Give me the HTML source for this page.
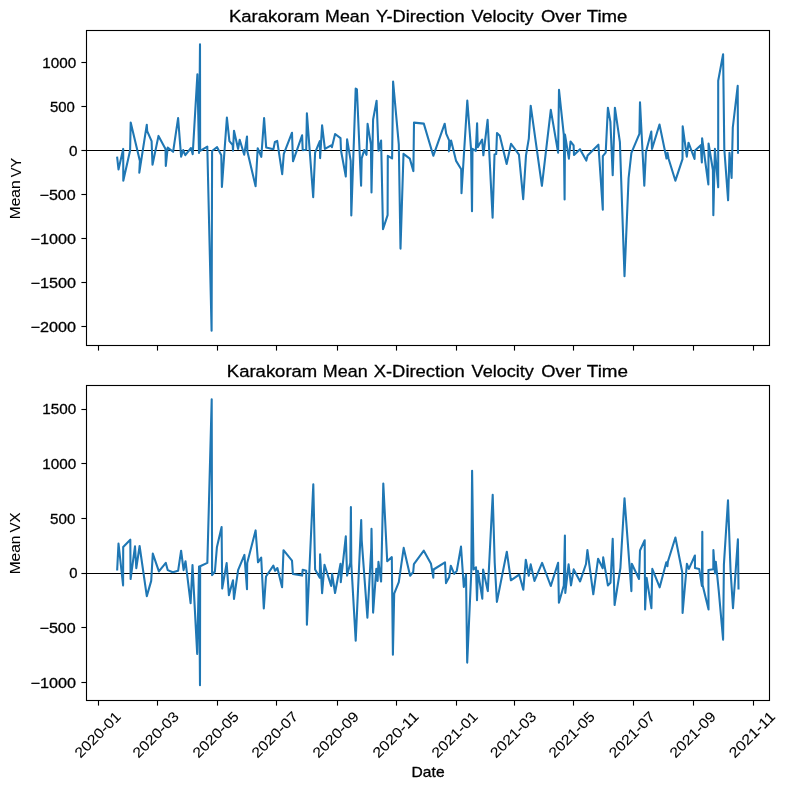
<!DOCTYPE html>
<html><head><meta charset="utf-8"><title>Karakoram Mean Velocity Over Time</title>
<style>html,body{margin:0;padding:0;background:#fff;}svg{display:block;}</style>
</head><body>
<svg width="788" height="790" viewBox="0 0 788 790">
<rect x="0" y="0" width="788" height="790" fill="#ffffff"/>
<clipPath id="c1"><rect x="86.5" y="30.5" width="683.0" height="315.0"/></clipPath>
<g clip-path="url(#c1)">
<line x1="86.5" y1="150.5" x2="769.5" y2="150.5" stroke="#000" stroke-width="1.11"/>
<polyline points="117.20,157.70 118.50,169.40 123.20,148.90 123.30,180.80 130.10,150.60 130.70,122.60 139.90,160.90 139.30,172.60 146.80,124.70 147.20,131.10 151.60,141.20 152.50,164.70 158.50,135.90 165.50,148.90 165.80,166.00 167.70,147.60 173.10,151.80 178.10,118.10 181.10,156.70 183.20,150.10 185.30,155.20 191.00,148.00 192.70,154.30 197.40,74.40 199.00,153.00 200.00,44.20 200.15,150.90 207.30,146.60 211.60,330.70 212.10,151.00 217.10,147.20 221.30,155.20 221.90,186.90 226.90,117.50 229.40,141.20 232.70,145.10 233.00,150.80 234.00,130.70 238.10,148.90 239.70,139.70 244.20,154.80 247.00,136.50 247.40,151.50 255.60,186.30 257.70,148.20 261.30,156.90 264.10,118.10 266.20,147.60 273.40,149.20 274.90,141.90 277.20,140.90 282.20,174.20 283.80,153.90 292.00,132.70 293.00,161.30 302.10,135.30 302.70,150.10 306.20,149.70 306.90,113.30 313.20,197.10 315.10,152.70 319.80,141.20 320.10,158.10 322.10,125.40 324.90,148.90 331.20,145.40 331.90,147.20 335.10,134.00 340.50,138.10 341.00,150.50 345.80,176.50 347.10,139.30 350.70,160.90 351.30,215.50 355.70,88.50 356.90,89.30 361.10,185.70 361.70,158.40 364.20,150.10 366.50,154.80 367.60,123.80 370.90,144.30 371.50,192.40 373.10,119.50 376.60,100.70 378.50,150.80 381.10,140.60 383.00,229.30 387.60,215.10 387.80,155.80 392.10,158.40 393.10,81.60 398.80,144.40 400.50,248.60 403.50,153.90 409.80,158.60 413.40,171.10 414.00,122.60 423.80,123.60 433.30,155.80 444.70,123.70 446.20,133.60 449.20,140.60 448.90,151.40 451.10,140.60 456.10,160.90 461.20,169.20 461.50,193.30 467.30,100.60 471.10,149.80 472.00,211.20 472.50,148.80 475.80,150.80 477.10,123.30 477.75,147.30 482.15,139.60 483.35,155.30 487.60,119.90 492.60,217.60 494.50,154.60 496.20,154.10 497.00,133.10 499.80,135.75 506.65,164.00 511.05,143.75 518.95,154.60 523.20,199.20 526.00,155.40 528.80,138.70 530.70,105.70 541.90,185.80 550.80,109.80 558.10,152.70 559.00,89.90 563.80,134.80 564.60,199.40 565.00,134.60 568.90,158.70 570.50,141.50 573.60,145.40 574.00,154.90 580.00,149.20 586.30,160.60 587.60,155.50 598.40,144.70 602.80,209.80 602.80,156.10 605.70,152.60 607.90,107.70 610.40,121.90 612.70,175.30 614.90,107.70 619.90,142.20 624.50,276.30 628.60,178.00 631.40,152.90 639.40,133.85 640.00,102.30 644.30,185.80 645.90,152.20 651.30,131.60 652.00,149.00 659.50,124.50 666.50,158.50 667.50,152.80 668.50,158.50 675.40,180.70 682.50,159.20 682.70,126.30 686.80,156.60 688.50,142.70 694.55,159.00 694.85,150.85 700.75,145.20 701.85,162.40 702.10,138.25 708.35,184.40 708.55,143.50 712.90,170.00 713.35,215.30 714.90,148.90 718.20,187.30 718.20,80.70 723.10,54.30 724.30,149.00 728.10,200.30 729.50,152.70 731.60,177.90 732.80,127.50 737.70,85.80 738.00,152.70" fill="none" stroke="#1f77b4" stroke-width="2.08" stroke-linejoin="round" stroke-linecap="square"/>
</g>
<g stroke="#000" stroke-width="1.11">
<line x1="98.5" y1="345.5" x2="98.5" y2="350.60"/>
<line x1="157.5" y1="345.5" x2="157.5" y2="350.60"/>
<line x1="217.5" y1="345.5" x2="217.5" y2="350.60"/>
<line x1="276.5" y1="345.5" x2="276.5" y2="350.60"/>
<line x1="337.5" y1="345.5" x2="337.5" y2="350.60"/>
<line x1="396.5" y1="345.5" x2="396.5" y2="350.60"/>
<line x1="456.5" y1="345.5" x2="456.5" y2="350.60"/>
<line x1="514.5" y1="345.5" x2="514.5" y2="350.60"/>
<line x1="573.5" y1="345.5" x2="573.5" y2="350.60"/>
<line x1="633.5" y1="345.5" x2="633.5" y2="350.60"/>
<line x1="693.5" y1="345.5" x2="693.5" y2="350.60"/>
<line x1="753.5" y1="345.5" x2="753.5" y2="350.60"/>
<line x1="81.40" y1="62.5" x2="86.5" y2="62.5"/>
<line x1="81.40" y1="106.5" x2="86.5" y2="106.5"/>
<line x1="81.40" y1="150.5" x2="86.5" y2="150.5"/>
<line x1="81.40" y1="194.5" x2="86.5" y2="194.5"/>
<line x1="81.40" y1="238.5" x2="86.5" y2="238.5"/>
<line x1="81.40" y1="282.5" x2="86.5" y2="282.5"/>
<line x1="81.40" y1="326.5" x2="86.5" y2="326.5"/>
<rect x="86.5" y="30.5" width="683.0" height="315.0" fill="none"/>
</g>
<clipPath id="c2"><rect x="86.5" y="385.5" width="683.0" height="315.0"/></clipPath>
<g clip-path="url(#c2)">
<line x1="86.5" y1="573.5" x2="769.5" y2="573.5" stroke="#000" stroke-width="1.11"/>
<polyline points="117.20,569.50 118.50,543.50 123.10,585.40 123.20,547.00 130.30,539.70 130.60,579.00 135.00,546.40 136.30,568.20 139.60,546.00 146.80,596.10 151.20,580.90 152.80,553.60 158.90,571.40 165.80,562.90 167.70,570.10 172.80,572.30 178.10,570.80 181.10,550.70 183.60,570.10 185.50,561.20 190.60,603.10 192.50,565.10 197.20,653.90 199.05,566.50 200.00,685.30 200.15,566.30 207.35,562.90 211.70,399.30 212.10,575.20 214.90,571.50 216.90,547.30 221.60,527.00 222.20,588.50 226.65,563.10 228.90,595.10 233.00,580.30 234.00,598.90 238.10,570.10 244.40,554.90 247.00,589.20 247.20,563.10 255.60,530.40 258.00,562.30 261.20,557.70 263.80,608.40 266.00,576.50 273.35,565.70 275.10,570.80 277.40,568.00 282.10,587.30 283.50,550.20 292.00,560.60 292.90,573.90 302.10,575.60 302.70,569.70 306.20,570.80 306.90,624.80 313.30,484.30 315.10,569.50 319.80,577.70 320.10,554.30 322.10,593.20 324.50,564.70 331.20,586.00 332.10,573.90 335.05,593.00 340.50,563.80 340.80,582.20 345.80,536.30 347.10,575.60 350.30,563.00 350.90,507.00 351.30,563.50 355.70,640.60 361.20,520.00 361.70,540.00 367.40,617.60 371.25,548.00 371.50,528.80 373.10,612.60 376.30,568.90 377.60,580.90 378.45,561.90 381.10,581.50 383.30,483.50 387.20,561.20 391.80,557.10 392.90,654.70 394.20,593.60 398.80,582.20 403.70,547.90 410.10,575.80 413.20,572.00 413.90,564.20 423.80,550.70 431.00,563.80 433.30,577.70 433.55,569.50 445.00,562.30 446.00,583.10 449.20,577.10 450.80,565.70 454.20,573.90 456.80,570.80 461.00,546.60 463.80,587.00 466.00,574.60 467.20,662.60 471.30,571.50 472.10,470.70 473.55,569.50 476.00,567.30 477.00,600.20 477.90,570.80 482.30,598.70 483.10,569.50 487.80,591.10 492.70,494.80 494.70,562.50 496.90,601.90 506.80,551.70 510.90,580.30 519.20,574.60 523.30,589.80 525.80,559.70 528.75,575.80 530.70,564.40 534.50,580.90 542.10,562.90 550.80,586.00 558.10,562.70 558.90,602.80 563.80,585.50 564.90,535.60 565.30,592.90 568.60,564.30 571.00,585.40 573.70,569.40 580.10,581.40 586.00,564.00 587.40,550.00 593.30,594.30 598.10,558.70 602.70,568.20 603.20,557.40 607.90,585.40 610.50,582.80 612.70,538.80 614.60,605.00 620.40,568.00 624.50,498.20 631.40,591.10 631.80,563.80 639.00,579.00 640.00,550.50 644.70,540.30 645.10,609.50 646.60,577.70 651.40,608.20 652.30,568.90 659.70,587.30 666.30,562.20 667.40,566.30 667.90,561.50 675.40,537.50 682.20,572.00 682.60,613.00 686.90,563.80 688.90,568.90 694.90,555.50 695.00,568.00 699.20,568.90 701.90,585.90 702.30,531.70 702.60,585.00 708.55,609.40 708.40,570.00 713.30,569.20 713.40,550.00 715.00,573.50 715.80,561.70 718.80,591.40 723.10,639.70 723.90,564.60 728.00,500.20 730.50,569.60 733.00,608.20 737.90,539.40 738.50,588.50" fill="none" stroke="#1f77b4" stroke-width="2.08" stroke-linejoin="round" stroke-linecap="square"/>
</g>
<g stroke="#000" stroke-width="1.11">
<line x1="98.5" y1="700.5" x2="98.5" y2="705.60"/>
<line x1="157.5" y1="700.5" x2="157.5" y2="705.60"/>
<line x1="217.5" y1="700.5" x2="217.5" y2="705.60"/>
<line x1="276.5" y1="700.5" x2="276.5" y2="705.60"/>
<line x1="337.5" y1="700.5" x2="337.5" y2="705.60"/>
<line x1="396.5" y1="700.5" x2="396.5" y2="705.60"/>
<line x1="456.5" y1="700.5" x2="456.5" y2="705.60"/>
<line x1="514.5" y1="700.5" x2="514.5" y2="705.60"/>
<line x1="573.5" y1="700.5" x2="573.5" y2="705.60"/>
<line x1="633.5" y1="700.5" x2="633.5" y2="705.60"/>
<line x1="693.5" y1="700.5" x2="693.5" y2="705.60"/>
<line x1="753.5" y1="700.5" x2="753.5" y2="705.60"/>
<line x1="81.40" y1="409.5" x2="86.5" y2="409.5"/>
<line x1="81.40" y1="463.5" x2="86.5" y2="463.5"/>
<line x1="81.40" y1="518.5" x2="86.5" y2="518.5"/>
<line x1="81.40" y1="573.5" x2="86.5" y2="573.5"/>
<line x1="81.40" y1="627.5" x2="86.5" y2="627.5"/>
<line x1="81.40" y1="682.5" x2="86.5" y2="682.5"/>
<rect x="86.5" y="385.5" width="683.0" height="315.0" fill="none"/>
</g>
<g font-family="Liberation Sans, sans-serif" fill="#000" stroke="#000" stroke-linejoin="round" style="will-change:transform;filter:grayscale(1)">
<text stroke-width="0.3" y="21.8" font-size="17.4"><tspan x="228.94" textLength="90.56" lengthAdjust="spacingAndGlyphs">Karakoram</tspan> <tspan x="325.13" textLength="44.45" lengthAdjust="spacingAndGlyphs">Mean</tspan> <tspan x="375.96" textLength="88.65" lengthAdjust="spacingAndGlyphs">Y-Direction</tspan> <tspan x="471.4" textLength="62.17" lengthAdjust="spacingAndGlyphs">Velocity</tspan> <tspan x="541.0" textLength="40.04" lengthAdjust="spacingAndGlyphs">Over</tspan> <tspan x="586.77" textLength="40.69" lengthAdjust="spacingAndGlyphs">Time</tspan></text>
<text stroke-width="0.3" y="376.8" font-size="17.4"><tspan x="226.83" textLength="90.43" lengthAdjust="spacingAndGlyphs">Karakoram</tspan> <tspan x="322.88" textLength="44.79" lengthAdjust="spacingAndGlyphs">Mean</tspan> <tspan x="373.67" textLength="91.13" lengthAdjust="spacingAndGlyphs">X-Direction</tspan> <tspan x="471.59" textLength="62.33" lengthAdjust="spacingAndGlyphs">Velocity</tspan> <tspan x="541.31" textLength="39.72" lengthAdjust="spacingAndGlyphs">Over</tspan> <tspan x="586.83" textLength="41.17" lengthAdjust="spacingAndGlyphs">Time</tspan></text>
<text stroke-width="0.08" transform="rotate(-90)" font-size="14.4"><tspan x="-219.23" y="20.17" textLength="38.88" lengthAdjust="spacingAndGlyphs">Mean</tspan> <tspan x="-177.26" y="20.57" textLength="19.36" lengthAdjust="spacingAndGlyphs">VY</tspan></text>
<text stroke-width="0.08" transform="rotate(-90)" font-size="14.4"><tspan x="-574.32" y="20.17" textLength="38.77" lengthAdjust="spacingAndGlyphs">Mean</tspan> <tspan x="-532.53" y="20.40" textLength="20.25" lengthAdjust="spacingAndGlyphs">VX</tspan></text>
<text stroke-width="0.3" x="42.26" y="68.1" font-size="14.4" textLength="33.93" lengthAdjust="spacingAndGlyphs">1000</text>
<text stroke-width="0.3" x="50.01" y="112.2" font-size="14.4" textLength="24.88" lengthAdjust="spacingAndGlyphs">500</text>
<text stroke-width="0.3" x="69.08" y="156.1" font-size="14.4" textLength="8.52" lengthAdjust="spacingAndGlyphs">0</text>
<text stroke-width="0.3" x="39.51" y="200.1" font-size="14.4" textLength="36.26" lengthAdjust="spacingAndGlyphs">−500</text>
<text stroke-width="0.3" x="30.49" y="244.1" font-size="14.4" textLength="45.43" lengthAdjust="spacingAndGlyphs">−1000</text>
<text stroke-width="0.3" x="30.49" y="288.05" font-size="14.4" textLength="45.43" lengthAdjust="spacingAndGlyphs">−1500</text>
<text stroke-width="0.3" x="30.49" y="332.1" font-size="14.4" textLength="45.43" lengthAdjust="spacingAndGlyphs">−2000</text>
<text stroke-width="0.3" x="42.26" y="414.2" font-size="14.4" textLength="33.93" lengthAdjust="spacingAndGlyphs">1500</text>
<text stroke-width="0.3" x="42.26" y="469.0" font-size="14.4" textLength="33.93" lengthAdjust="spacingAndGlyphs">1000</text>
<text stroke-width="0.3" x="50.14" y="524.2" font-size="14.4" textLength="25.35" lengthAdjust="spacingAndGlyphs">500</text>
<text stroke-width="0.3" x="69.31" y="578.1" font-size="14.4" textLength="8.26" lengthAdjust="spacingAndGlyphs">0</text>
<text stroke-width="0.3" x="39.51" y="633.2" font-size="14.4" textLength="36.26" lengthAdjust="spacingAndGlyphs">−500</text>
<text stroke-width="0.3" x="30.49" y="688.2" font-size="14.4" textLength="45.43" lengthAdjust="spacingAndGlyphs">−1000</text>
<text stroke-width="0.3" x="411.62" y="776.9" font-size="14.4" textLength="32.96" lengthAdjust="spacingAndGlyphs">Date</text>
<text stroke-width="0.08" transform="translate(98.49,735.58) rotate(-45)" x="-29.20" y="3.6" font-size="14.4" textLength="58.39" lengthAdjust="spacingAndGlyphs">2020-01</text>
<text stroke-width="0.08" transform="translate(156.49,735.58) rotate(-45)" x="-29.20" y="3.6" font-size="14.4" textLength="58.39" lengthAdjust="spacingAndGlyphs">2020-03</text>
<text stroke-width="0.08" transform="translate(216.49,735.58) rotate(-45)" x="-29.20" y="3.6" font-size="14.4" textLength="58.39" lengthAdjust="spacingAndGlyphs">2020-05</text>
<text stroke-width="0.08" transform="translate(275.69,735.58) rotate(-45)" x="-29.20" y="3.6" font-size="14.4" textLength="58.39" lengthAdjust="spacingAndGlyphs">2020-07</text>
<text stroke-width="0.08" transform="translate(336.49,735.58) rotate(-45)" x="-29.20" y="3.6" font-size="14.4" textLength="58.39" lengthAdjust="spacingAndGlyphs">2020-09</text>
<text stroke-width="0.08" transform="translate(396.49,735.58) rotate(-45)" x="-29.20" y="3.6" font-size="14.4" textLength="58.39" lengthAdjust="spacingAndGlyphs">2020-11</text>
<text stroke-width="0.08" transform="translate(455.59,735.58) rotate(-45)" x="-29.20" y="3.6" font-size="14.4" textLength="58.39" lengthAdjust="spacingAndGlyphs">2021-01</text>
<text stroke-width="0.08" transform="translate(513.99,735.58) rotate(-45)" x="-29.20" y="3.6" font-size="14.4" textLength="58.39" lengthAdjust="spacingAndGlyphs">2021-03</text>
<text stroke-width="0.08" transform="translate(572.59,735.58) rotate(-45)" x="-29.20" y="3.6" font-size="14.4" textLength="58.39" lengthAdjust="spacingAndGlyphs">2021-05</text>
<text stroke-width="0.08" transform="translate(632.89,735.58) rotate(-45)" x="-29.20" y="3.6" font-size="14.4" textLength="58.39" lengthAdjust="spacingAndGlyphs">2021-07</text>
<text stroke-width="0.08" transform="translate(693.49,735.58) rotate(-45)" x="-29.20" y="3.6" font-size="14.4" textLength="58.39" lengthAdjust="spacingAndGlyphs">2021-09</text>
<text stroke-width="0.08" transform="translate(752.89,735.58) rotate(-45)" x="-29.20" y="3.6" font-size="14.4" textLength="58.39" lengthAdjust="spacingAndGlyphs">2021-11</text>
</g>
</svg>
</body></html>
